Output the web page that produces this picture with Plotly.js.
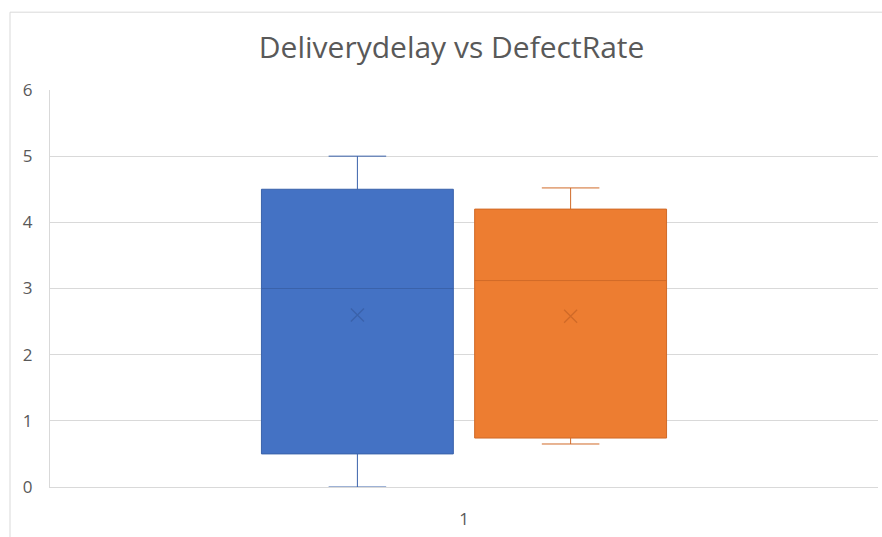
<!DOCTYPE html>
<html><head><meta charset="utf-8">
<script src="https://cdn.plot.ly/plotly-3.0.1.min.js"></script>
<style>html,body{margin:0;padding:0;background:#fff}#c{width:882px;height:537px}</style>
</head><body><div id="c"></div>
<script>
const category = ['1'];
const seriesNames = ['Deliverydelay', 'DefectRate'];
const mins = [0, 0.65];
const q1s = [0.5, 0.74];
const medians = [3.0, 3.12];
const q3s = [4.5, 4.2];
const maxs = [5.0, 4.52];
const means = [2.6, 2.58];
const fills = ['#4472C4', '#ED7D31'];
const lines = ['#3a62aa', '#d06a28'];
const yTicks = [0, 1, 2, 3, 4, 5, 6];
const FONT = '"Open Sans", Lato, sans-serif';

const traces = [];
seriesNames.forEach((n, i) => {
  traces.push({
    type: 'box', name: n, x: [category[0]],
    lowerfence: [mins[i]], q1: [q1s[i]], median: [medians[i]], q3: [q3s[i]], upperfence: [maxs[i]],
    fillcolor: fills[i], line: {color: lines[i], width: 1}, whiskerwidth: 0.3,
    boxpoints: false, hoverinfo: 'skip', showlegend: false
  });
});
seriesNames.forEach((n, i) => {
  traces.push({
    type: 'scatter', mode: 'markers', name: n + ' mean', x: [category[0]], y: [means[i]],
    marker: {symbol: 'x-thin-open', size: 13, color: lines[i], line: {color: lines[i], width: 1.3}},
    showlegend: false, hoverinfo: 'skip'
  });
});

const layout = {
  width: 882, height: 537,
  margin: {l: 50, r: 4, t: 90, b: 50},
  paper_bgcolor: '#fff', plot_bgcolor: '#fff',
  title: {text: 'Deliverydelay vs DefectRate', x: 0.512, xanchor: 'center', y: 0.912, yanchor: 'middle',
          font: {family: FONT, size: 30, color: '#595959'}},
  boxmode: 'group', boxgap: 0.485, boxgroupgap: 0.1,
  scattermode: 'group', scattergap: 0.485,
  showlegend: false,
  xaxis: {type: 'category', showgrid: false, showline: true, linecolor: '#d9d9d9', linewidth: 1,
          ticks: '', ticklabelstandoff: 17, tickfont: {family: FONT, size: 17, color: '#595959'},
          fixedrange: true},
  yaxis: {range: [0, 6], tickvals: yTicks, showgrid: true, gridcolor: '#d9d9d9', gridwidth: 1,
          zeroline: false, showline: true, linecolor: '#d9d9d9', linewidth: 1, ticks: '',
          ticklabelstandoff: 13, tickfont: {family: FONT, size: 17, color: '#595959'}},
  shapes: [{type: 'rect', xref: 'paper', yref: 'paper', x0: -0.0483, x1: 1.2, y0: -0.3, y1: 1.196,
            line: {color: '#d9d9d9', width: 1}, fillcolor: 'rgba(0,0,0,0)', layer: 'below'}]
};
Plotly.newPlot('c', traces, layout, {displayModeBar: false, staticPlot: true});
</script></body></html>
